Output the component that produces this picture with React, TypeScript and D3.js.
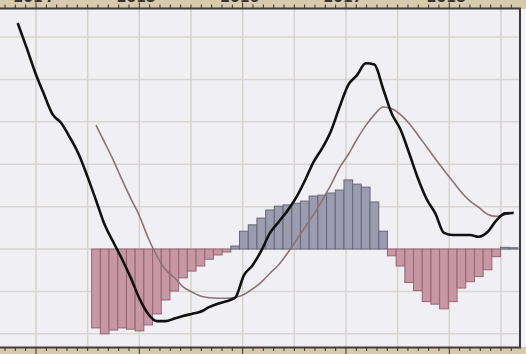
import React, { useRef, useEffect } from "react";
import * as d3 from "d3";

const W = 526;
const H = 354;

const yearLabels = ["2014", "2015", "2016", "2017", "2018"];
const yearValues = [2014, 2015, 2016, 2017, 2018];
const gridValues = [-2, -1, 0, 1, 2, 3, 4, 5];

// MACD line starts 9 periods before the signal/histogram
const MACD_OFFSET = -9;
const macdValues = [
  5.33, 4.76, 4.17, 3.66, 3.18, 2.97, 2.63, 2.24, 1.72,
  1.15, 0.57, 0.16, -0.24, -0.68, -1.17, -1.53, -1.7, -1.7, -1.64,
  -1.58, -1.53, -1.48, -1.37, -1.29, -1.23, -1.15, -0.62, -0.38, -0.04,
  0.38, 0.64, 0.9, 1.21, 1.61, 2.05, 2.38, 2.78, 3.35, 3.87,
  4.1, 4.38, 4.35, 3.78, 3.19, 2.82, 2.26, 1.67, 1.18, 0.84,
  0.38, 0.33, 0.33, 0.33, 0.29, 0.4, 0.67, 0.84, 0.85,
];
const signalValues = [
  2.92, 2.51, 2.09, 1.63, 1.19, 0.78, 0.26, -0.16, -0.49, -0.67,
  -0.89, -1.01, -1.11, -1.15, -1.16, -1.16, -1.14, -1.07, -0.94, -0.78,
  -0.57, -0.37, -0.1, 0.2, 0.51, 0.81, 1.15, 1.51, 1.92, 2.23,
  2.59, 2.91, 3.17, 3.35, 3.31, 3.17, 2.96, 2.69, 2.41, 2.13,
  1.86, 1.6, 1.34, 1.13, 0.98, 0.82, 0.77, 0.81, 0.87,
];
const histValues = [
  -1.86, -2.0, -1.91, -1.86, -1.89, -1.93, -1.79, -1.53, -1.2, -0.99,
  -0.68, -0.52, -0.4, -0.24, -0.14, -0.07, 0.07, 0.42, 0.57, 0.73,
  0.92, 1.01, 1.04, 1.08, 1.13, 1.25, 1.27, 1.32, 1.39, 1.63,
  1.53, 1.46, 1.11, 0.42, -0.16, -0.4, -0.79, -0.98, -1.24, -1.3,
  -1.41, -1.24, -0.92, -0.77, -0.65, -0.49, -0.18, 0.04, 0.03,
];

export default function App() {
  const ref = useRef<SVGSVGElement>(null);

  useEffect(() => {
    const svg = d3.select(ref.current);
    svg.selectAll("*").remove();

    const left = 0, right = 520, top = 9, bottom = 347;

    const x = d3.scaleLinear().domain([0, histValues.length - 1]).range([96, 513.6]);
    const y = d3.scaleLinear().domain([-2.31, 5.66]).range([bottom, top]);
    const tx = d3.scaleLinear().domain([2014, 2018]).range([36, 449.3]);
    const bw = x(1) - x(0);

    svg.append("rect").attr("width", W).attr("height", H).attr("fill", "#d9caac");
    svg.append("rect").attr("x", right).attr("y", top).attr("width", W - right).attr("height", bottom - top).attr("fill", "#f3f3f3");
    svg.append("rect").attr("x", left).attr("y", top).attr("width", right - left).attr("height", bottom - top).attr("fill", "#f0f0f4");

    const defs = svg.append("defs");
    defs.append("clipPath").attr("id", "plotclip").append("rect")
      .attr("x", left).attr("y", top).attr("width", right - left).attr("height", bottom - top);

    const g = svg.append("g").attr("clip-path", "url(#plotclip)");

    // vertical gridlines every half year
    const halfYears = d3.range(2013.5, 2018.75, 0.5);
    g.selectAll("line.vg").data(halfYears).enter().append("line")
      .attr("x1", (d) => tx(d)).attr("x2", (d) => tx(d))
      .attr("y1", top).attr("y2", bottom)
      .attr("stroke", "#d5d3cb").attr("stroke-width", 1.5);
    g.selectAll("line.hg").data(gridValues).enter().append("line")
      .attr("x1", left).attr("x2", right)
      .attr("y1", (d) => y(d)).attr("y2", (d) => y(d))
      .attr("stroke", "#d8d6ce").attr("stroke-width", 1.5);

    // histogram
    g.selectAll("rect.bar").data(histValues).enter().append("rect")
      .attr("x", (_, i) => x(i) - bw / 2)
      .attr("width", bw)
      .attr("y", (d) => (d >= 0 ? y(d) : y(0)))
      .attr("height", (d) => Math.abs(y(d) - y(0)))
      .attr("fill", (d) => (d >= 0 ? "#9b9caf" : "#c897a6"))
      .attr("stroke", (d) => (d >= 0 ? "#666674" : "#946474"))
      .attr("stroke-width", 1);

    const sigLine = d3.line<number>().x((_, i) => x(i)).y((d) => y(d)).curve(d3.curveMonotoneX);
    g.append("path").attr("d", sigLine(signalValues)).attr("fill", "none")
      .attr("stroke", "#8c7272").attr("stroke-width", 1.6);

    const macdLine = d3.line<number>().x((_, i) => x(i + MACD_OFFSET)).y((d) => y(d)).curve(d3.curveMonotoneX);
    g.append("path").attr("d", macdLine(macdValues)).attr("fill", "none")
      .attr("stroke", "#111").attr("stroke-width", 2.6).attr("stroke-linejoin", "round");

    // borders
    svg.append("line").attr("x1", 0).attr("x2", right + 1).attr("y1", top - 0.5).attr("y2", top - 0.5)
      .attr("stroke", "#3c3c3c").attr("stroke-width", 2);
    svg.append("line").attr("x1", 0).attr("x2", right + 1).attr("y1", bottom + 0.5).attr("y2", bottom + 0.5)
      .attr("stroke", "#3c3c3c").attr("stroke-width", 2);
    svg.append("line").attr("x1", right).attr("x2", right).attr("y1", top - 1).attr("y2", bottom + 1)
      .attr("stroke", "#3c3c3c").attr("stroke-width", 2);

    // ticks
    const minor = d3.range(2013.6, 2018.75, 0.1).filter((d) => tx(d) >= 0 && tx(d) <= right);
    const isMajor = (d: number) => Math.abs(d - Math.round(d)) < 1e-6;
    svg.selectAll("line.tt").data(minor).enter().append("line")
      .attr("x1", (d) => tx(d)).attr("x2", (d) => tx(d))
      .attr("y1", top - 1).attr("y2", (d) => (isMajor(d) ? 2.5 : 4.5))
      .attr("stroke", "#333").attr("stroke-width", 1);
    svg.selectAll("line.bt").data(minor).enter().append("line")
      .attr("x1", (d) => tx(d)).attr("x2", (d) => tx(d))
      .attr("y1", bottom + 1).attr("y2", (d) => (isMajor(d) ? 354 : 351))
      .attr("stroke", "#333").attr("stroke-width", 1);

    // year labels (mostly cut off at the top, as in the reference)
    svg.selectAll("text.yr").data(yearValues).enter().append("text")
      .attr("x", (d) => tx(d) - 3)
      .attr("y", 1.6)
      .attr("text-anchor", "middle")
      .attr("font-family", "DejaVu Sans, sans-serif")
      .attr("font-size", 14)
      .attr("font-weight", "bold")
      .attr("fill", "#333")
      .text((_, i) => yearLabels[i]);
  }, []);

  return (
    <div style={{ position: "absolute", left: 0, top: 0 }}>
      <svg ref={ref} width={W} height={H} style={{ display: "block" }} />
    </div>
  );
}
